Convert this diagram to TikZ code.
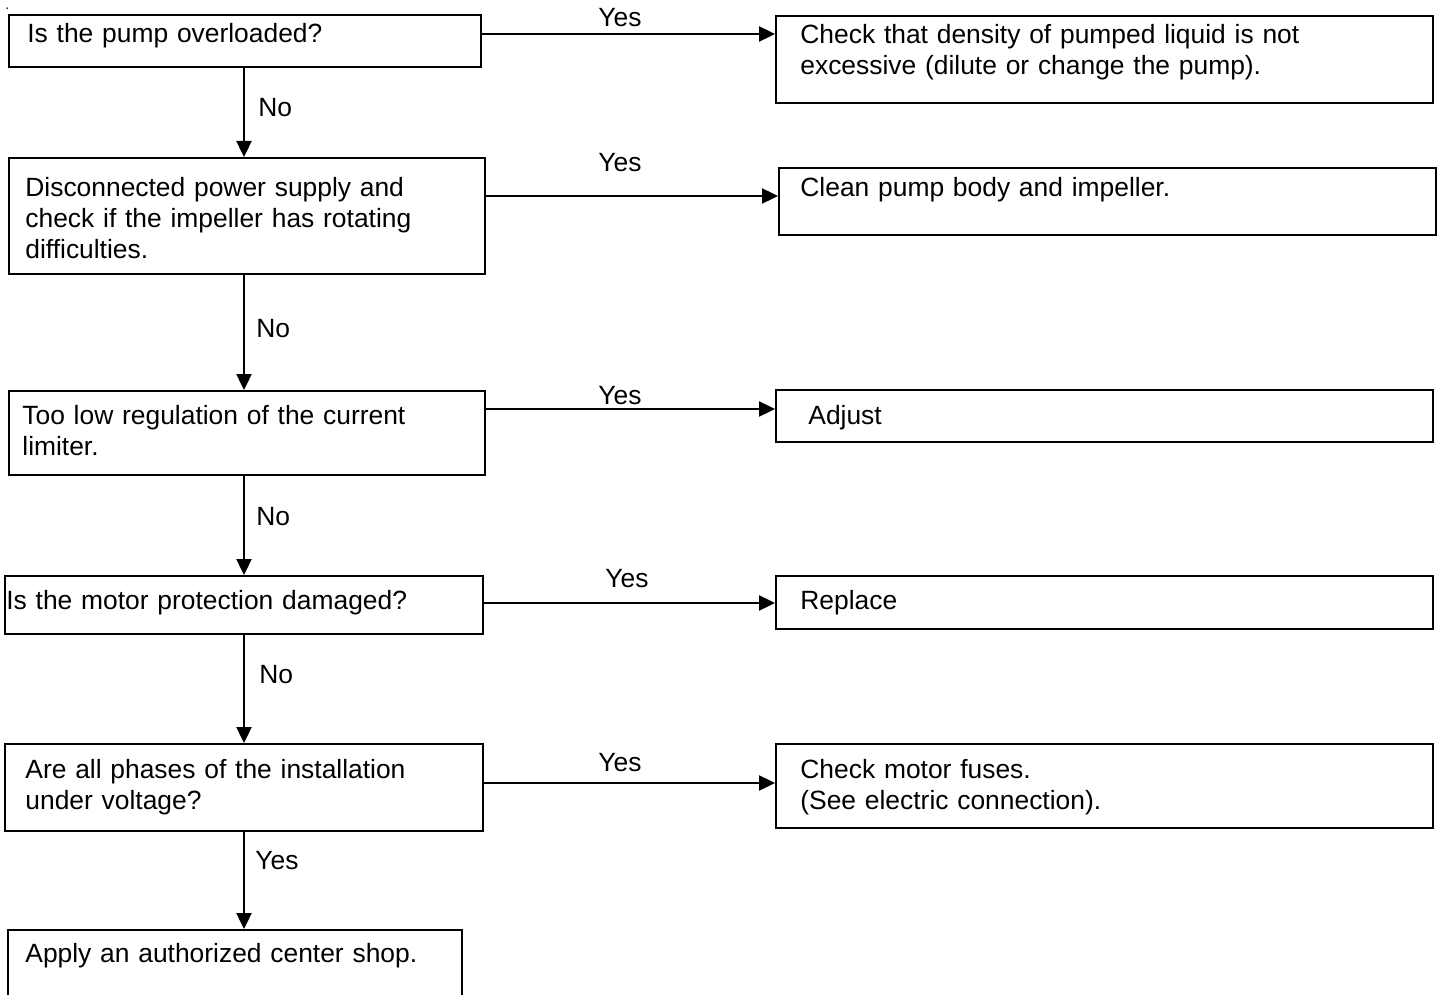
\documentclass[tikz,border=0pt]{standalone}
\usepackage{fontspec}
\setmainfont{Liberation Sans}
\usetikzlibrary{positioning,arrows.meta}

\tikzset{
  box/.style={draw, line width=1.2pt, inner sep=0pt, anchor=north west},
  txt/.style={inner sep=0pt, anchor=base west, align=left, text width=320pt,
    font=\fontsize{13.2}{15.5}\selectfont},
  lbl/.style={inner sep=0pt, anchor=base west, font=\fontsize{13.2}{15.5}\selectfont},
  arr/.style={line width=1.2pt, -{Triangle[length=8pt,width=7.5pt]}},
}

\begin{document}
\begin{tikzpicture}[x=0.5pt, y=-0.5pt]
\clip (0,0) rectangle (1442,995);

\def\xl{8};
\def\xr{775};
\def\rw{328.5pt};

% left column
\node[box, minimum width=236pt, minimum height=26pt] (L1) at (\xl,14) {};
\node[box, minimum width=238pt, minimum height=58pt] (L2) at (\xl,157) {};
\node[box, minimum width=238pt, minimum height=42pt] (L3) at (\xl,390) {};
\node[box, minimum width=239pt, minimum height=29pt] (L4) at (4,575) {};
\node[box, minimum width=239pt, minimum height=43.5pt] (L5) at (4,743) {};
\node[box, minimum width=227pt, minimum height=40pt] (L6) at (7,929) {};

\node[txt] (t1) at (27,43) {Is the pump overloaded?};
\node[txt] (t2) at (25,197) {Disconnected power supply and\\check if the impeller has rotating\\difficulties.};
\node[txt] (t3) at (22,424) {Too low regulation of the current\\limiter.};
\node[txt] (t4) at (6,609) {Is the motor protection damaged?};
\node[txt] (t5) at (25,778) {Are all phases of the installation\\under voltage?};
\node[txt] (t6) at (25,962) {Apply an authorized center shop.};

% right column
\node[box, minimum width=\rw, minimum height=43.5pt] (R1) at (\xr,15) {};
\node[box, minimum width=\rw, minimum height=33.5pt] (R2) at (778,167) {};
\node[box, minimum width=\rw, minimum height=26pt] (R3) at (\xr,389) {};
\node[box, minimum width=\rw, minimum height=26.5pt] (R4) at (\xr,575) {};
\node[box, minimum width=\rw, minimum height=42pt] (R5) at (\xr,743) {};

\node[txt] (s1) at (800,44) {Check that density of pumped liquid is not\\excessive (dilute or change the pump).};
\node[txt] (s2) at (800,197) {Clean pump body and impeller.};
\node[txt] (s3) at (808,424) {Adjust};
\node[txt] (s4) at (800,609) {Replace};
\node[txt] (s5) at (800,778) {Check motor fuses.\\(See electric connection).};

% yes branches
\coordinate (h1) at (0,34);
\coordinate (h2) at (0,196);
\coordinate (h3) at (0,409);
\coordinate (h4) at (0,603);
\coordinate (h5) at (0,783);
\draw[arr] (L1.east |- h1) -- (R1.west |- h1);
\draw[arr] (L2.east |- h2) -- (R2.west |- h2);
\draw[arr] (L3.east |- h3) -- (R3.west |- h3);
\draw[arr] (L4.east |- h4) -- (R4.west |- h4);
\draw[arr] (L5.east |- h5) -- (R5.west |- h5);
\node[lbl] (y1) at (598,27) {Yes};
\node[lbl] (y2) at (598,172) {Yes};
\node[lbl] (y3) at (598,404) {Yes};
\node[lbl] (y4) at (605,587) {Yes};
\node[lbl] (y5) at (598,771) {Yes};

% no branches
\coordinate (vx) at (244,0);
\draw[arr] (L1.south -| vx) -- (L2.north -| vx);
\draw[arr] (L2.south -| vx) -- (L3.north -| vx);
\draw[arr] (L3.south -| vx) -- (L4.north -| vx);
\draw[arr] (L4.south -| vx) -- (L5.north -| vx);
\draw[arr] (L5.south -| vx) -- (L6.north -| vx);
\node[lbl] (n1) at (258,117) {No};
\node[lbl] (n2) at (256,337) {No};
\node[lbl] (n3) at (256,525) {No};
\node[lbl] (n4) at (259,683) {No};
\node[lbl] (n5) at (255,869) {Yes};

\node[lbl, font=\scriptsize] (dot) at (5,10) {.};
\end{tikzpicture}
\end{document}
